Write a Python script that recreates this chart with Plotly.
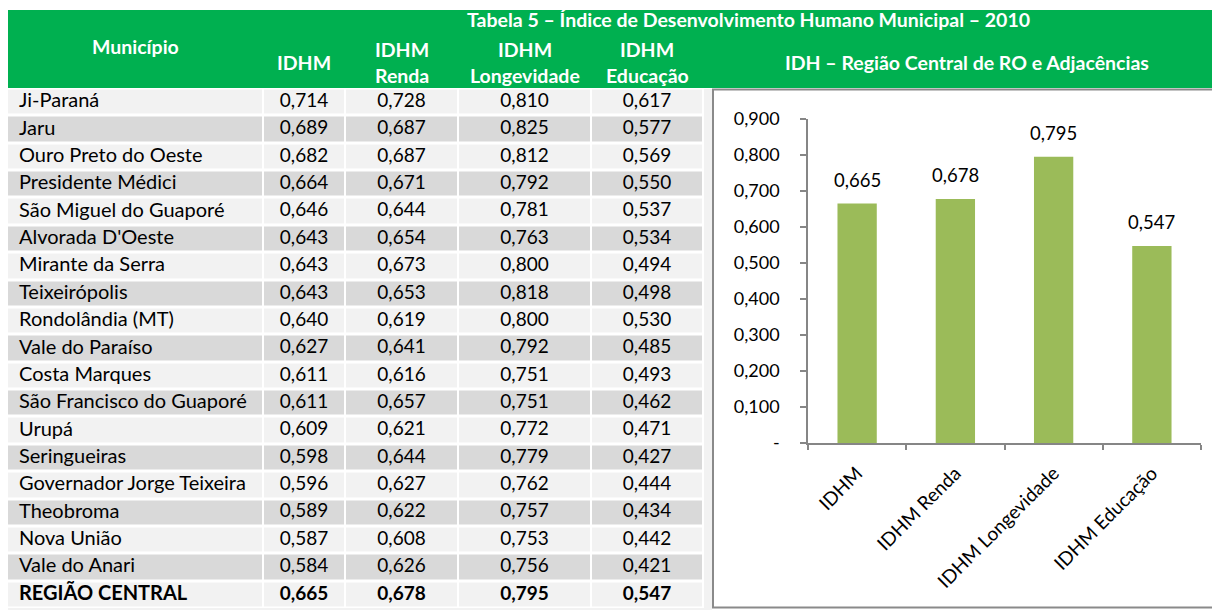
import plotly.graph_objects as go

# ---------------- data ----------------
municipios = ["Ji-Paraná", "Jaru", "Ouro Preto do Oeste", "Presidente Médici",
              "São Miguel do Guaporé", "Alvorada D'Oeste", "Mirante da Serra",
              "Teixeirópolis", "Rondolândia (MT)", "Vale do Paraíso", "Costa Marques",
              "São Francisco do Guaporé", "Urupá", "Seringueiras",
              "Governador Jorge Teixeira", "Theobroma", "Nova União", "Vale do Anari",
              "REGIÃO CENTRAL"]
idhm = [0.714, 0.689, 0.682, 0.664, 0.646, 0.643, 0.643, 0.643, 0.640, 0.627,
        0.611, 0.611, 0.609, 0.598, 0.596, 0.589, 0.587, 0.584, 0.665]
idhm_renda = [0.728, 0.687, 0.687, 0.671, 0.644, 0.654, 0.673, 0.653, 0.619, 0.641,
              0.616, 0.657, 0.621, 0.644, 0.627, 0.622, 0.608, 0.626, 0.678]
idhm_longevidade = [0.810, 0.825, 0.812, 0.792, 0.781, 0.763, 0.800, 0.818, 0.800, 0.792,
                    0.751, 0.751, 0.772, 0.779, 0.762, 0.757, 0.753, 0.756, 0.795]
idhm_educacao = [0.617, 0.577, 0.569, 0.550, 0.537, 0.534, 0.494, 0.498, 0.530, 0.485,
                 0.493, 0.462, 0.471, 0.427, 0.444, 0.434, 0.442, 0.421, 0.547]

chart_categories = ["IDHM", "IDHM Renda", "IDHM Longevidade", "IDHM Educação"]
chart_values = [0.665, 0.678, 0.795, 0.547]
y_tick_values = [0.0, 0.1, 0.2, 0.3, 0.4, 0.5, 0.6, 0.7, 0.8, 0.9]

table_title = "Tabela 5 – Índice de Desenvolvimento Humano Municipal – 2010"
chart_title = "IDH – Região Central de RO e Adjacências"

# ---------------- layout constants ----------------
W, H = 1220, 610
OFF = 8  # page body margin: the figure is drawn 8px right/down in the window
FONT = "Lato"
GREEN = "#00B050"
BAR = "#9BBB59"
ROW_LIGHT = "#F2F2F2"
ROW_DARK = "#D9D9D9"
AXIS = "#868686"
NAME_SIZE = 20
NUM_SIZE = 19
HDR_SIZE = 19.5

# positions below are in window (screen) pixels
col_edges = [7, 263, 345, 458, 591, 703]
row_top, row_bottom = 88.5, 608.5
n_rows = len(municipios)
pitch = (row_bottom - row_top) / n_rows
row_edges = [row_top + i * pitch for i in range(n_rows + 1)]
row_centers = [row_top + (i + 0.5) * pitch for i in range(n_rows)]
col_centers = [(col_edges[i] + col_edges[i + 1]) / 2 for i in range(len(col_edges) - 1)]


def fmt(v):
    return f"{v:.3f}".replace(".", ",")


def bold_last(texts):
    return texts[:-1] + [f"<b>{texts[-1]}</b>"]


def px(x):
    return (x - OFF) / W


def py(y):
    return (H - (y - OFF)) / H


fig = go.Figure()

# ---------------- table (screen-pixel axes x2/y2) ----------------
z = [[i % 2 for _ in range(len(col_centers))] for i in range(n_rows)]
fig.add_trace(go.Heatmap(
    x=col_edges, y=row_edges, z=z,
    colorscale=[[0, ROW_LIGHT], [1, ROW_DARK]], zmin=0, zmax=1,
    showscale=False, xgap=2, ygap=3, hoverinfo="skip",
    xaxis="x2", yaxis="y2"))

fig.add_trace(go.Scatter(
    x=[col_edges[0] + 12] * n_rows, y=row_centers, mode="text",
    text=bold_last(municipios), textposition="middle right",
    textfont=dict(family=FONT, size=NAME_SIZE, color="black"),
    hoverinfo="skip", showlegend=False, xaxis="x2", yaxis="y2"))

for ci, col in enumerate([idhm, idhm_renda, idhm_longevidade, idhm_educacao]):
    fig.add_trace(go.Scatter(
        x=[col_centers[ci + 1]] * n_rows, y=row_centers, mode="text",
        text=bold_last([fmt(v) for v in col]), textposition="middle center",
        textfont=dict(family=FONT, size=NUM_SIZE, color="black"),
        hoverinfo="skip", showlegend=False, xaxis="x2", yaxis="y2"))

# ---------------- bar chart ----------------
fig.add_trace(go.Bar(
    x=chart_categories, y=chart_values, marker=dict(color=BAR, line=dict(width=0)),
    hoverinfo="skip", showlegend=False))

annotations = []
for c, v in zip(chart_categories, chart_values):
    annotations.append(dict(x=c, y=v, xref="x", yref="y", text=fmt(v), showarrow=False,
                            yanchor="bottom", yshift=11,
                            font=dict(family=FONT, size=18.5, color="black")))

hdr_font = dict(family=FONT, size=HDR_SIZE, color="white")


def hdr(x, y, text):
    annotations.append(dict(x=px(x), y=py(y), xref="paper", yref="paper",
                            text=f"<b>{text}</b>",
                            showarrow=False, xanchor="center", yanchor="middle",
                            font=hdr_font))


hdr(748, 20, table_title)
hdr(967, 62, chart_title)
hdr(col_centers[0], 47, "Município")
hdr(col_centers[1], 63, "IDHM")
for i, sub in zip([2, 3, 4], ["Renda", "Longevidade", "Educação"]):
    hdr(col_centers[i], 49, "IDHM")
    hdr(col_centers[i], 76, sub)


def prect(x0, x1, y0, y1, **kw):
    return dict(type="rect", xref="paper", yref="paper",
                x0=px(x0), x1=px(x1), y0=py(y1), y1=py(y0), layer="below", **kw)


shapes = [
    prect(7, 1240, 10, 88, fillcolor=GREEN, line=dict(width=0)),
    prect(704, 712, 89, 620, fillcolor=ROW_LIGHT, line=dict(width=0)),
    prect(7, 704, 608, 620, fillcolor=ROW_LIGHT, line=dict(width=0)),
    prect(713, 1240, 89.5, 607.5, line=dict(color="#8A8A8A", width=2)),
]

fig.update_layout(
    width=W, height=H, margin=dict(l=0, r=0, t=0, b=0, pad=0, autoexpand=False),
    paper_bgcolor="white", plot_bgcolor="rgba(0,0,0,0)",
    bargap=0.6, showlegend=False,
    xaxis=dict(domain=[px(808), px(1201)], type="category", automargin=False,
               showline=True, linecolor=AXIS, linewidth=1.5,
               ticks="outside", tickson="boundaries", ticklen=5, tickcolor=AXIS,
               tickwidth=1.5, tickangle=-45, showgrid=False,
               tickfont=dict(family=FONT, size=19, color="black"),
               ticklabelstandoff=10, fixedrange=True),
    yaxis=dict(domain=[py(443), py(119)], range=[0, 0.9], automargin=False,
               tickvals=y_tick_values,
               ticktext=["-" if v == 0 else fmt(v) for v in y_tick_values],
               showline=True, linecolor=AXIS, linewidth=1.5,
               ticks="outside", ticklen=6, tickcolor=AXIS, tickwidth=1.5,
               showgrid=False, zeroline=False,
               tickfont=dict(family=FONT, size=18, color="black"),
               ticklabelstandoff=17, fixedrange=True),
    xaxis2=dict(domain=[0, 1], range=[OFF, W + OFF], visible=False, fixedrange=True,
                automargin=False),
    yaxis2=dict(domain=[0, 1], range=[H + OFF, OFF], visible=False, fixedrange=True,
                automargin=False),
    annotations=annotations, shapes=shapes,
)

fig.write_html("out.html")
